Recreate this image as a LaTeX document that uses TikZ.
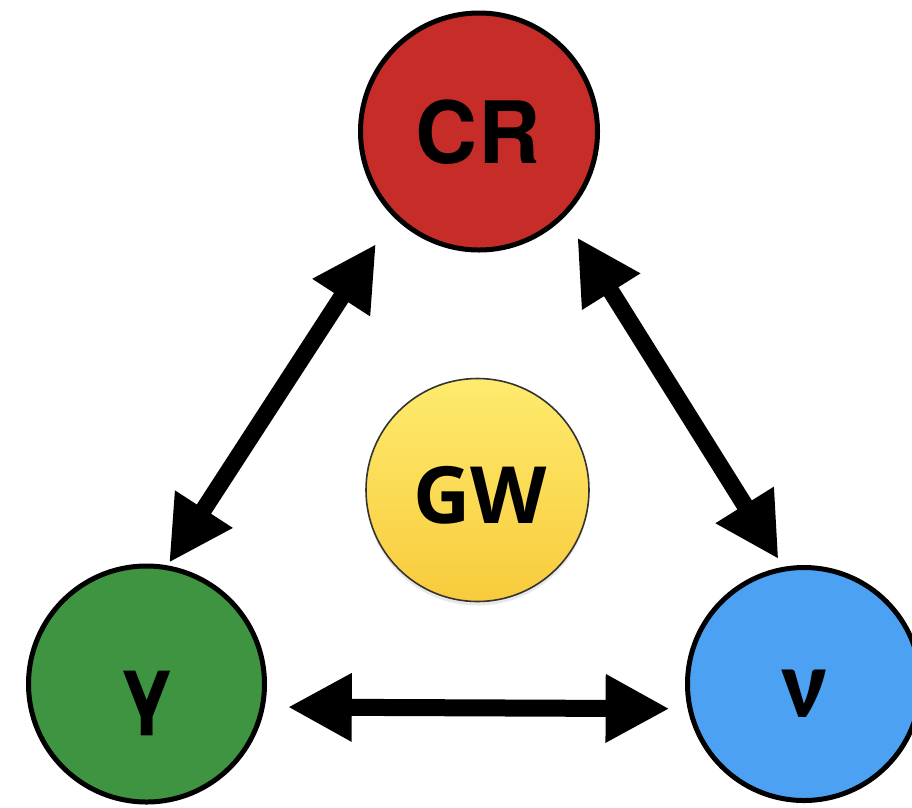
\documentclass[tikz,border=0pt]{standalone}
\usepackage{fontspec}
\setmainfont{TeX Gyre Heros}
\newfontfamily\gwfont{Open Sans}
\newfontfamily\nufont{Carlito}
\usetikzlibrary{arrows.meta,shadows}
\definecolor{crred}{HTML}{C62D28}
\definecolor{ggreen}{HTML}{3E9440}
\definecolor{nblue}{HTML}{4DA1F2}
\definecolor{ytop}{HTML}{FEEB6E}
\definecolor{ybot}{HTML}{F8CB3C}
\begin{document}
\begin{tikzpicture}[x=1pt,y=-1pt,
  ball/.style={circle,draw=black,line width=5pt,inner sep=0pt},
  lbl/.style={anchor=base,inner sep=0pt,font=\bfseries\fontsize{86}{86}\selectfont},
  arr/.style={line width=17pt,{Triangle[length=64pt,width=64pt]}-{Triangle[length=64pt,width=64pt]}}]
\useasboundingbox (0,0) rectangle (912,807);
\clip (0,0) rectangle (912,807);
\node[ball,fill=crred,minimum size=237pt] (cr) at (479,131.5) {};
\node[circle,draw=black!80,line width=1.6pt,inner sep=0pt,minimum size=223pt,
      top color=ytop,bottom color=ybot,
      drop shadow={opacity=0.18,shadow xshift=0pt,shadow yshift=-4pt}] (gw) at (477.5,490) {};
\node[ball,fill=ggreen,minimum size=236pt] (g) at (146.5,684) {};
\node[ball,fill=nblue,minimum size=233pt] (n) at (804,684) {};
\node[lbl] (crt) at (478,163) {CR};
\node[lbl,font=\gwfont\bfseries\fontsize{79}{79}\selectfont] (gwt) at (480,523) {GW};
\node[lbl,font=\bfseries\fontsize{84}{84}\selectfont] (gt) at (147,716) {γ};
\node[lbl,font=\nufont\bfseries\fontsize{98}{98}\selectfont] (nt) at (805,717) {ν};
\draw[arr,shorten <=3pt,shorten >=32pt] (g.80) -- (cr.225);
\draw[arr,shorten <=24pt,shorten >=9pt] (cr.315) -- (n.100);
\draw[arr,shorten <=23pt,shorten >=18pt] (g.-11) -- (n.192);
\end{tikzpicture}
\end{document}
